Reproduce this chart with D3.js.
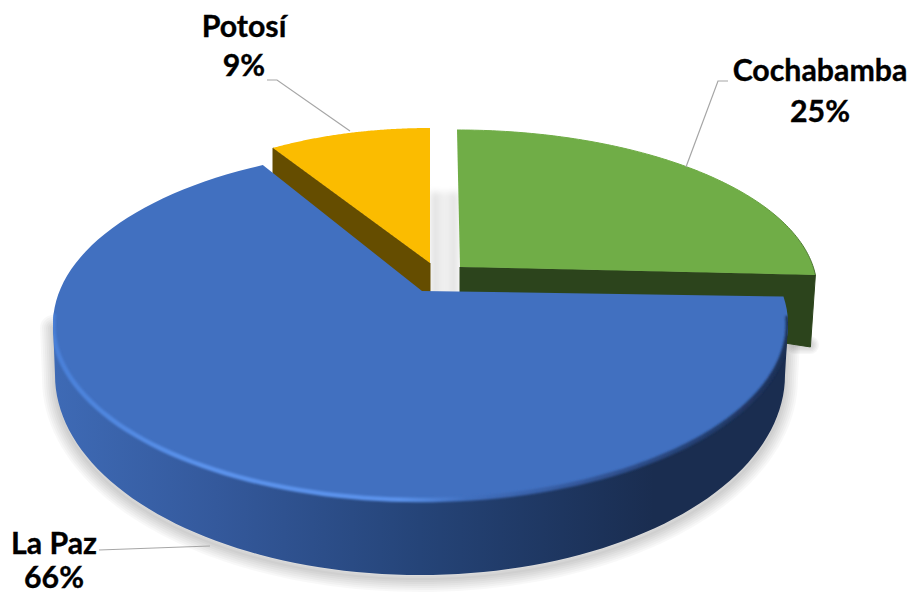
<!DOCTYPE html>
<html><head><meta charset="utf-8">
<script src="https://cdn.jsdelivr.net/npm/d3@7"></script>
<style>html,body{margin:0;background:#fff}svg{display:block}text{font-family:Lato,"Noto Sans",sans-serif;font-weight:700;fill:#000;stroke:#000;stroke-width:.35px;text-anchor:middle}</style>
</head><body><script>
const categories = ["Cochabamba", "La Paz", "Potosí"];
const shares = [25, 66, 9];
const percentLabels = ["25%", "66%", "9%"];

const W = 910, H = 595;
const colors = ["#70ad47", "#4170c0", "#fbbc00"];
const wallColors = ["#2c441c", null, "#654d00"];
// screen layout of each exploded slice (perspective makes each its own ellipse)
const views = [
  {tip:[460,267], c:[457,290], r:[360,160], t0:0, k:0.94, wallTip:[0,26], wallEnd:[-5,72]},
  {tip:[422,291], c:[420.5,324], r:[367.5,176], t0:81, k:1.0673},
  {tip:[430,263], c:[430,256], r:[293,128], t0:-32.4, k:1, wallTip:[0,35], wallEnd:[0,30]}
];
const base = {c:[420,375], r:[365,200]};
const labelLayout = [
  {x:820, y:[81,122], lead:[[728,81],[718,81],[686,167]]},
  {x:54, y:[554,588], lead:[[99,550],[210,546]]},
  {x:244, y:[37,76], lead:[[267,80],[277,80],[350,131]]}
];

const svg = d3.select("body").append("svg").attr("width",W).attr("height",H);
const defs = svg.append("defs");
const blur = (id,s)=>defs.append("filter").attr("id",id)
  .attr("filterUnits","userSpaceOnUse").attr("x",0).attr("y",0).attr("width",W).attr("height",H)
  .append("feGaussianBlur").attr("stdDeviation",s);
blur("b3",3); blur("b1",1.1);
const grad = (id,stops,x1,x2)=>{
  const g = defs.append("linearGradient").attr("id",id).attr("gradientUnits","userSpaceOnUse")
    .attr("x1",x1).attr("x2",x2).attr("y1",0).attr("y2",0);
  stops.forEach(s=>g.append("stop").attr("offset",s[0]).attr("stop-color",s[1]));
};
grad("wall",[[0,"#3e6ab5"],[.22,"#34599c"],[.5,"#254478"],[.75,"#1c3259"],[.82,"#1a2d50"],[1,"#1a2d50"]],55,785);
grad("bevel",[[0,"#4a80d8"],[.2,"#5b93ec"],[.47,"#5b93ec"],[.56,"#4170c0"],[.72,"#34589c"],[.9,"#233d6e"],[1,"#1d3056"]],53,788);
grad("gap",[[0,"#dcdcdc"],[.5,"#f3f3f3"],[1,"#dedede"]],431,458);
grad("greenEdge",[[0,"#70ad47"],[.8,"#6eaa45"],[1,"#47702e"]],457,817);

const deg = Math.PI/180;
const pt = (v,a)=>[v.c[0]+v.r[0]*Math.sin(a), v.c[1]-v.r[1]*Math.cos(a)];
const pie = d3.pie().sort(null).startAngle(0).endAngle(2*Math.PI)(shares);
const arcs = pie.map((d,i)=>{
  const v = views[i], t0 = v.t0*deg, span = (d.endAngle-d.startAngle)*v.k;
  return d3.range(0,121).map(j=>pt(v,t0+span*j/120));
});
const line = d3.line();

// silhouette of the large slice's body
const bodyPts = d3.range(270,89,-2).map(a=>pt(base,a*deg));
const bodyPath = line([pt(views[1],270*deg),...bodyPts,pt(views[1],90*deg)])+"Z";
const bluePath = line([views[1].tip,...arcs[1]])+"Z";

// soft shadows, built from nested translucent outlines
[26,22,18,14,10,6,2].forEach(w=>{
  svg.append("path").attr("d",bodyPath).attr("transform","translate(0,4)")
    .attr("fill","none").attr("stroke","#000").attr("stroke-width",w).attr("stroke-linejoin","round").attr("opacity",.028);
  svg.append("path").attr("d",line([[795,345],[810,345]])).attr("fill","none")
    .attr("stroke","#000").attr("stroke-width",w*.7).attr("stroke-linecap","round").attr("opacity",.03);
});
// shadow in the gap between slices
svg.append("rect").attr("x",431).attr("y",192).attr("width",27).attr("height",105).attr("fill","url(#gap)").attr("filter","url(#b3)");

// side walls of the two small slices
[0,2].forEach(i=>{
  const v = views[i], a = arcs[i], e = i===0 ? a[a.length-1] : a[0];
  svg.append("path").attr("d",line([v.tip,e,[e[0]+v.wallEnd[0],e[1]+v.wallEnd[1]],[v.tip[0]+v.wallTip[0],v.tip[1]+v.wallTip[1]]])+"Z")
    .attr("fill",wallColors[i]).attr("stroke",wallColors[i]).attr("stroke-width",1).attr("stroke-linejoin","round");
});
// top faces of the small slices
[0,2].forEach(i=>{
  svg.append("path").attr("d",line([views[i].tip,...arcs[i]])+"Z").attr("fill",colors[i]);
});
svg.append("path").attr("d",line(arcs[0])).attr("fill","none").attr("stroke","url(#greenEdge)").attr("stroke-width",1);

// large slice: body, top, bevel clipped to its outline
defs.append("clipPath").attr("id","blueClip").call(c=>{
  c.append("path").attr("d",bodyPath);
  c.append("path").attr("d",bluePath);
});
svg.append("path").attr("d",bodyPath).attr("fill","url(#wall)");
svg.append("path").attr("d",bluePath).attr("fill",colors[1]);
const lower = arcs[1].filter(p=>p[1]>312);
svg.append("g").attr("clip-path","url(#blueClip)")
  .append("path").attr("d",line(lower)).attr("fill","none").attr("stroke","url(#bevel)").attr("stroke-width",4.5).attr("filter","url(#b1)");

// leaders and labels
labelLayout.forEach((l,i)=>{
  svg.append("path").attr("d",line(l.lead)).attr("fill","none").attr("stroke","#a6a6a6").attr("stroke-width",1.2);
  svg.append("text").attr("x",l.x).attr("y",l.y[0]).attr("font-size",30.3).text(categories[i]);
  svg.append("text").attr("x",l.x).attr("y",l.y[1]).attr("font-size",30.3).text(percentLabels[i]);
});
</script></body></html>
